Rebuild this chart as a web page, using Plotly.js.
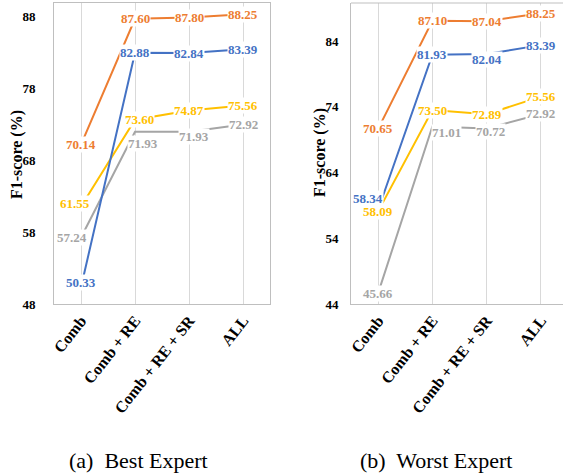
<!DOCTYPE html>
<html>
<head>
<meta charset="utf-8">
<script src="https://cdn.plot.ly/plotly-3.0.1.min.js"></script>
<style>html,body{margin:0;padding:0;background:#fff;}#chart{width:563px;height:474px;}</style>
</head>
<body>
<div id="chart"></div>
<script>
// ---- data ----
const categories = ["Comb", "Comb + RE", "Comb + RE + SR", "ALL"];

// (a) Best Expert
const bestOrange = [70.14, 87.60, 87.80, 88.25];
const bestBlue   = [50.33, 82.88, 82.84, 83.39];
const bestYellow = [61.55, 73.60, 74.87, 75.56];
const bestGray   = [57.24, 71.93, 71.93, 72.92];

// (b) Worst Expert
const worstOrange = [70.65, 87.10, 87.04, 88.25];
const worstBlue   = [58.34, 81.93, 82.04, 83.39];
const worstYellow = [58.09, 73.50, 72.89, 75.56];
const worstGray   = [45.66, 71.01, 70.72, 72.92];

const yTicksBest = [48, 58, 68, 78, 88];
const yTicksWorst = [44, 54, 64, 74, 84];
const yTitle = "F1-score (%)";
const captions = ["(a)  Best Expert", "(b)  Worst Expert"];

// ---- styles ----
const colors = {orange: "#ED7D31", blue: "#4472C4", yellow: "#FFC000", gray: "#A5A5A5"};
const FONT = "Liberation Serif";

// label pixel offsets [xshift, yshift] per point
const offBest = {
  orange: [[0,0],[0,0],[0,0],[0,0]],
  blue:   [[0,5],[0,0],[0,0],[0,0]],
  yellow: [[-6,3],[4,0],[0,0],[0,0]],
  gray:   [[-9,0],[8,-12],[5,-5],[0,0]]
};
const offWorst = {
  orange: [[0,0],[0,0],[0,0],[0,0]],
  blue:   [[-10,11],[0,0],[0,-5],[0,0]],
  yellow: [[0,0],[0,0],[0,0],[0,0]],
  gray:   [[0,0],[14,-6],[4,-3],[0,0]]
};

const idx = categories.map((c, i) => i);

function makeSet(vals, xa, ya, offs) {
  const order = ["gray", "yellow", "blue", "orange"];
  const traces = [], anns = [];
  order.forEach(k => {
    traces.push({
      x: idx, y: vals[k], xaxis: xa, yaxis: ya, type: "scatter", mode: "lines",
      line: {color: colors[k], width: 2}, hoverinfo: "skip", showlegend: false
    });
  });
  order.forEach(k => {
    vals[k].forEach((v, i) => {
      anns.push({
        x: i, y: v, xref: xa, yref: ya, text: v.toFixed(2), showarrow: false,
        xanchor: "center", yanchor: "middle",
        xshift: offs[k][i][0], yshift: offs[k][i][1],
        font: {family: FONT, size: 13, color: colors[k], weight: "bold"},
        bgcolor: "rgba(255,255,255,1)", borderpad: 0
      });
    });
  });
  return {traces, anns};
}

const A = makeSet({orange: bestOrange, blue: bestBlue, yellow: bestYellow, gray: bestGray}, "x", "y", offBest);
const B = makeSet({orange: worstOrange, blue: worstBlue, yellow: worstYellow, gray: worstGray}, "x2", "y2", offWorst);

const xaxisBase = {
  tickmode: "array", tickvals: idx, ticktext: categories, tickangle: -52,
  tickfont: {family: FONT, size: 16, color: "#000", weight: "bold"},
  showgrid: true, gridcolor: "#d9d9d9", gridwidth: 1,
  showline: true, linecolor: "#bfbfbf", linewidth: 1, mirror: true,
  zeroline: false, ticks: "", fixedrange: true
};
const yaxisBase = {
  dtick: 10, tickfont: {family: FONT, size: 13, color: "#000", weight: "bold"},
  showgrid: false, zeroline: false, showline: true, linecolor: "#bfbfbf", linewidth: 1,
  ticks: ""
};
const titleFont = {family: FONT, size: 16, color: "#000", weight: "bold"};
const capFont = {family: FONT, size: 22, color: "#000"};

const layout = {
  width: 563, height: 474,
  margin: {l: 0, r: 0, t: 0, b: 0},
  paper_bgcolor: "#fff", plot_bgcolor: "#fff",
  showlegend: false,
  xaxis: Object.assign({}, xaxisBase, {domain: [54/563, 270/563], range: [-0.5, 3.5], anchor: "y"}),
  yaxis: Object.assign({}, yaxisBase, {domain: [1 - 304/474, 1 - 3/474], range: [48, 89.8], tickvals: yTicksBest, mirror: true, anchor: "x", ticklabelstandoff: 15}),
  xaxis2: Object.assign({}, xaxisBase, {domain: [351/563, 1], range: [-0.5, 3.5 - (568-563)/54], anchor: "y2", mirror: false}),
  yaxis2: Object.assign({}, yaxisBase, {domain: [1 - 304/474, 1 - 3/474], range: [44, 89.8], tickvals: yTicksWorst, mirror: false, anchor: "x2", ticklabelstandoff: 9}),
  shapes: [
    {type: "line", xref: "x2 domain", yref: "y2 domain", x0: 0, x1: 1, y0: 1, y1: 1, line: {color: "#bfbfbf", width: 1}}
  ],
  annotations: A.anns.concat(B.anns).concat([
    {x: 17/563, y: 1 - 155/474, xref: "paper", yref: "paper", text: yTitle, textangle: -90, showarrow: false,
     xanchor: "center", yanchor: "middle", font: titleFont},
    {x: 320/563, y: 1 - 153/474, xref: "paper", yref: "paper", text: yTitle, textangle: -90, showarrow: false,
     xanchor: "center", yanchor: "middle", font: titleFont},
    {x: 138/563, y: 1 - 460/474, xref: "paper", yref: "paper", text: captions[0], showarrow: false,
     xanchor: "center", yanchor: "middle", font: capFont},
    {x: 436/563, y: 1 - 460/474, xref: "paper", yref: "paper", text: captions[1], showarrow: false,
     xanchor: "center", yanchor: "middle", font: capFont}
  ])
};

Plotly.newPlot("chart", A.traces.concat(B.traces), layout, {displayModeBar: false, staticPlot: true});
</script>
</body>
</html>
